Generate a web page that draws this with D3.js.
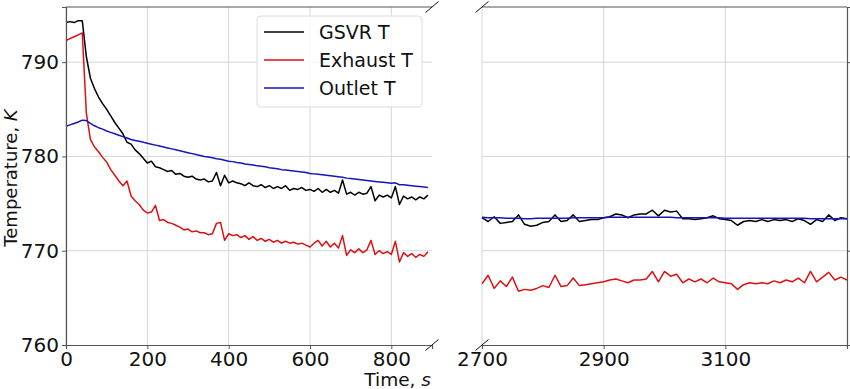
<!DOCTYPE html>
<html>
<head>
<meta charset="utf-8">
<script src="https://cdn.jsdelivr.net/npm/d3@7"></script>
<style>
  body { margin: 0; background: #fff; }
  svg text { font-family: "DejaVu Sans", sans-serif; fill: #111; }
  .grid line { stroke: #d6d6d6; stroke-width: 1; }
  .axis path, .axis line { stroke: #555; }
</style>
</head>
<body>
<div id="chart"></div>
<script>
// sample times (s), 10 s step
var tLeft = d3.range(0, 900, 10);
var tRight = d3.range(2700, 3310, 10);

var gsvrLeft = [794.2, 794.3, 794.2, 794.4, 794.4, 790.6, 788.3, 787.2, 786.3, 785.6,
  785.0, 784.3, 783.6, 783.0, 782.4, 781.5, 781.3, 780.7, 780.3, 779.8,
  779.3, 779.5, 778.9, 778.8, 778.6, 778.4, 778.5, 778.1, 778.2, 777.9,
  777.8, 777.9, 777.6, 777.5, 777.6, 777.3, 777.4, 778.3, 776.9, 778.0,
  777.2, 777.4, 777.2, 777.1, 776.9, 777.2, 776.9, 776.8, 777.0, 776.7,
  776.9, 776.6, 776.8, 776.6, 776.9, 776.4, 776.6, 776.5, 776.7, 776.4,
  776.5, 776.3, 776.6, 776.2, 776.5, 776.2, 776.4, 776.1, 777.5, 776.0,
  776.2, 775.9, 776.2, 776.0, 776.1, 776.8, 775.3, 775.9, 775.7, 775.9,
  775.6, 776.8, 774.9, 775.8, 775.5, 775.7, 775.4, 775.7, 775.5, 775.9];

var exhaustLeft = [792.3, 792.5, 792.7, 792.9, 793.1, 784.6, 781.8, 781.0, 780.5, 779.9,
  779.4, 778.6, 778.0, 777.4, 776.9, 777.4, 775.8, 775.3, 774.9, 774.3,
  774.0, 774.1, 774.8, 773.2, 773.3, 773.0, 772.9, 772.7, 772.5, 772.2,
  772.3, 772.0, 772.1, 771.9, 771.9, 771.7, 771.8, 772.9, 773.0, 771.1,
  771.8, 771.6, 771.7, 771.4, 771.6, 771.2, 771.5, 771.1, 771.3, 771.0,
  771.2, 770.9, 771.1, 770.8, 771.0, 770.8, 770.9, 770.7, 770.8, 770.6,
  770.4, 770.8, 771.1, 770.5, 771.0, 770.4, 770.8, 770.3, 771.6, 769.5,
  770.1, 769.8, 770.2, 769.8, 770.1, 771.1, 769.6, 770.0, 769.7, 769.9,
  769.6, 771.0, 768.8, 769.8, 769.4, 769.7, 769.3, 769.6, 769.4, 769.9];

var outletLeft = [783.2, 783.35, 783.5, 783.65, 783.85, 783.8, 783.5, 783.25, 783.05, 782.9,
  782.7, 782.55, 782.4, 782.25, 782.1, 781.95, 781.8, 781.7, 781.6, 781.5,
  781.4, 781.3, 781.2, 781.1, 781.0, 780.9, 780.8, 780.7, 780.6, 780.5,
  780.4, 780.3, 780.2, 780.1, 780.0, 779.95, 779.85, 779.75, 779.7, 779.6,
  779.5, 779.45, 779.35, 779.3, 779.2, 779.15, 779.1, 779.0, 778.95, 778.9,
  778.8, 778.75, 778.7, 778.6, 778.55, 778.5, 778.45, 778.4, 778.35, 778.3,
  778.2, 778.15, 778.1, 778.05, 778.0, 777.95, 777.9, 777.85, 777.8, 777.7,
  777.65, 777.6, 777.55, 777.5, 777.45, 777.4, 777.35, 777.3, 777.25, 777.2,
  777.15, 777.2, 777.0, 777.0, 776.95, 776.9, 776.85, 776.8, 776.75, 776.7];

var gsvrRight = [773.5, 773.1, 773.6, 772.9, 773.0, 773.1, 773.8, 772.8, 772.6, 772.7,
  773.0, 773.1, 773.8, 773.1, 773.2, 773.8, 773.1, 773.2, 773.3, 773.3,
  773.5, 773.6, 773.9, 773.8, 773.5, 773.8, 773.9, 773.9, 774.3, 773.7,
  774.3, 774.1, 774.2, 773.4, 773.4, 773.3, 773.4, 773.5, 773.7, 773.4,
  773.3, 773.2, 772.7, 773.1, 773.2, 773.1, 773.3, 773.1, 773.3, 773.2,
  773.3, 773.1, 773.4, 773.2, 772.8, 773.3, 773.1, 773.8, 773.2, 773.5,
  773.4];

var exhaustRight = [766.5, 767.4, 766.0, 766.8, 766.2, 767.2, 765.7, 765.9, 765.8, 766.0,
  766.3, 766.1, 767.4, 766.2, 766.3, 767.1, 766.3, 766.4, 766.5, 766.6,
  766.7, 766.9, 767.0, 766.8, 766.6, 766.9, 766.9, 767.0, 767.8, 766.7,
  767.8, 767.3, 767.5, 766.6, 767.0, 766.7, 767.0, 766.6, 767.1, 766.7,
  766.6, 766.5, 765.9, 766.4, 766.6, 766.5, 766.6, 766.5, 766.8, 766.6,
  766.9, 766.7, 767.1, 766.6, 767.8, 766.7, 767.2, 767.7, 766.9, 767.2,
  766.9];

var outletRight = [773.55, 773.5, 773.5, 773.5, 773.45, 773.45, 773.45, 773.4, 773.4, 773.45,
  773.45, 773.45, 773.45, 773.45, 773.45, 773.5, 773.5, 773.5, 773.5, 773.5,
  773.5, 773.55, 773.55, 773.55, 773.55, 773.55, 773.55, 773.55, 773.55, 773.55,
  773.55, 773.55, 773.5, 773.5, 773.5, 773.5, 773.5, 773.5, 773.5, 773.5,
  773.45, 773.45, 773.45, 773.45, 773.45, 773.45, 773.45, 773.45, 773.45, 773.45,
  773.45, 773.45, 773.45, 773.45, 773.4, 773.4, 773.4, 773.4, 773.4, 773.4,
  773.4];

var seriesNames = ["GSVR T", "Exhaust T", "Outlet T"];
var seriesColors = ["#000000", "#dd1111", "#1515bb"];
var yTicks = [760, 770, 780, 790];
var xTicksLeft = [0, 200, 400, 600, 800];
var xTicksRight = [2700, 2900, 3100];

var width = 850, height = 389;
var plotTop = 7, plotBottom = 345;

var svg = d3.select("#chart").append("svg")
  .attr("width", width)
  .attr("height", height);

var y = d3.scaleLinear().domain([760, 795.85]).range([plotBottom, plotTop]);
var xL = d3.scaleLinear().domain([0, 900]).range([66, 432]);
var xR = d3.scaleLinear().domain([2700, 3300]).range([482, 847]);

function drawPanel(x, ticks, data, first) {
  var g = svg.append("g");
  // grid
  g.append("g").attr("class", "grid")
    .selectAll("line").data(ticks).enter().append("line")
    .attr("x1", function (d) { return x(d); })
    .attr("x2", function (d) { return x(d); })
    .attr("y1", plotTop).attr("y2", plotBottom);
  g.append("g").attr("class", "grid")
    .selectAll("line").data(yTicks.slice(1)).enter().append("line")
    .attr("x1", x.range()[0]).attr("x2", x.range()[1])
    .attr("y1", function (d) { return y(d); })
    .attr("y2", function (d) { return y(d); });

  // lines
  var tt = first ? tLeft : tRight;
  data.forEach(function (vals, i) {
    var line = d3.line()
      .x(function (d, j) { return x(tt[j]); })
      .y(function (d) { return y(d); });
    g.append("path")
      .datum(vals)
      .attr("fill", "none")
      .attr("stroke", seriesColors[i])
      .attr("stroke-width", 1.5)
      .attr("stroke-linejoin", "round")
      .attr("d", line);
  });

  // x axis
  var xa = g.append("g").attr("class", "axis")
    .attr("transform", "translate(0," + plotBottom + ")")
    .call(d3.axisBottom(x).tickValues(ticks).tickSize(4).tickPadding(3).tickFormat(d3.format("d")));
  xa.selectAll("text").style("font-size", "20px").attr("fill", "#111");
  xa.select(".domain").attr("stroke-width", 1.2);

  // top spine
  g.append("line")
    .attr("x1", x.range()[0]).attr("x2", x.range()[1])
    .attr("y1", plotTop).attr("y2", plotTop)
    .attr("stroke", "#555").attr("stroke-width", 1.2);

  if (first) {
    var ya = g.append("g").attr("class", "axis")
      .attr("transform", "translate(" + x.range()[0] + ",0)")
      .call(d3.axisLeft(y).tickValues(yTicks).tickSize(4).tickPadding(3));
    ya.selectAll("text").style("font-size", "20px").attr("fill", "#111");
    ya.select(".domain").attr("stroke-width", 1.2);
  } else {
    var yr = g.append("g").attr("class", "axis")
      .attr("transform", "translate(" + x.range()[1] + ",0)")
      .call(d3.axisRight(y).tickValues(yTicks).tickSize(4).tickFormat(""));
    yr.select(".domain").attr("stroke-width", 1.2);
  }
}

drawPanel(xL, xTicksLeft, [gsvrLeft, exhaustLeft, outletLeft], true);
drawPanel(xR, xTicksRight, [gsvrRight, exhaustRight, outletRight], false);

// break marks
[[432, plotTop], [432, plotBottom], [482, plotTop], [482, plotBottom]].forEach(function (p) {
  svg.append("line")
    .attr("x1", p[0] - 6.5).attr("y1", p[1] + 5.5)
    .attr("x2", p[0] + 6.5).attr("y2", p[1] - 5.5)
    .attr("stroke", "#111").attr("stroke-width", 1);
});

// axis labels
var yl = svg.append("text")
  .attr("transform", "translate(17,178) rotate(-90)")
  .attr("text-anchor", "middle")
  .style("font-size", "18px");
yl.append("tspan").text("Temperature, ");
yl.append("tspan").style("font-style", "italic").text("K");

var xl = svg.append("text")
  .attr("x", 431).attr("y", 386)
  .attr("text-anchor", "end")
  .style("font-size", "18.5px");
xl.append("tspan").text("Time, ");
xl.append("tspan").style("font-style", "italic").text("s");

// legend
var lg = svg.append("g");
lg.append("rect")
  .attr("x", 257).attr("y", 16).attr("width", 165).attr("height", 91)
  .attr("rx", 4)
  .attr("fill", "#fff").attr("fill-opacity", 0.85)
  .attr("stroke", "#dcdcdc");
seriesNames.forEach(function (name, i) {
  var yy = 32 + i * 28;
  lg.append("line")
    .attr("x1", 264).attr("x2", 304)
    .attr("y1", yy).attr("y2", yy)
    .attr("stroke", seriesColors[i]).attr("stroke-width", 1.5);
  lg.append("text")
    .attr("x", 319).attr("y", yy)
    .attr("dy", "0.36em")
    .style("font-size", "19px")
    .text(name);
});
</script>
</body>
</html>
